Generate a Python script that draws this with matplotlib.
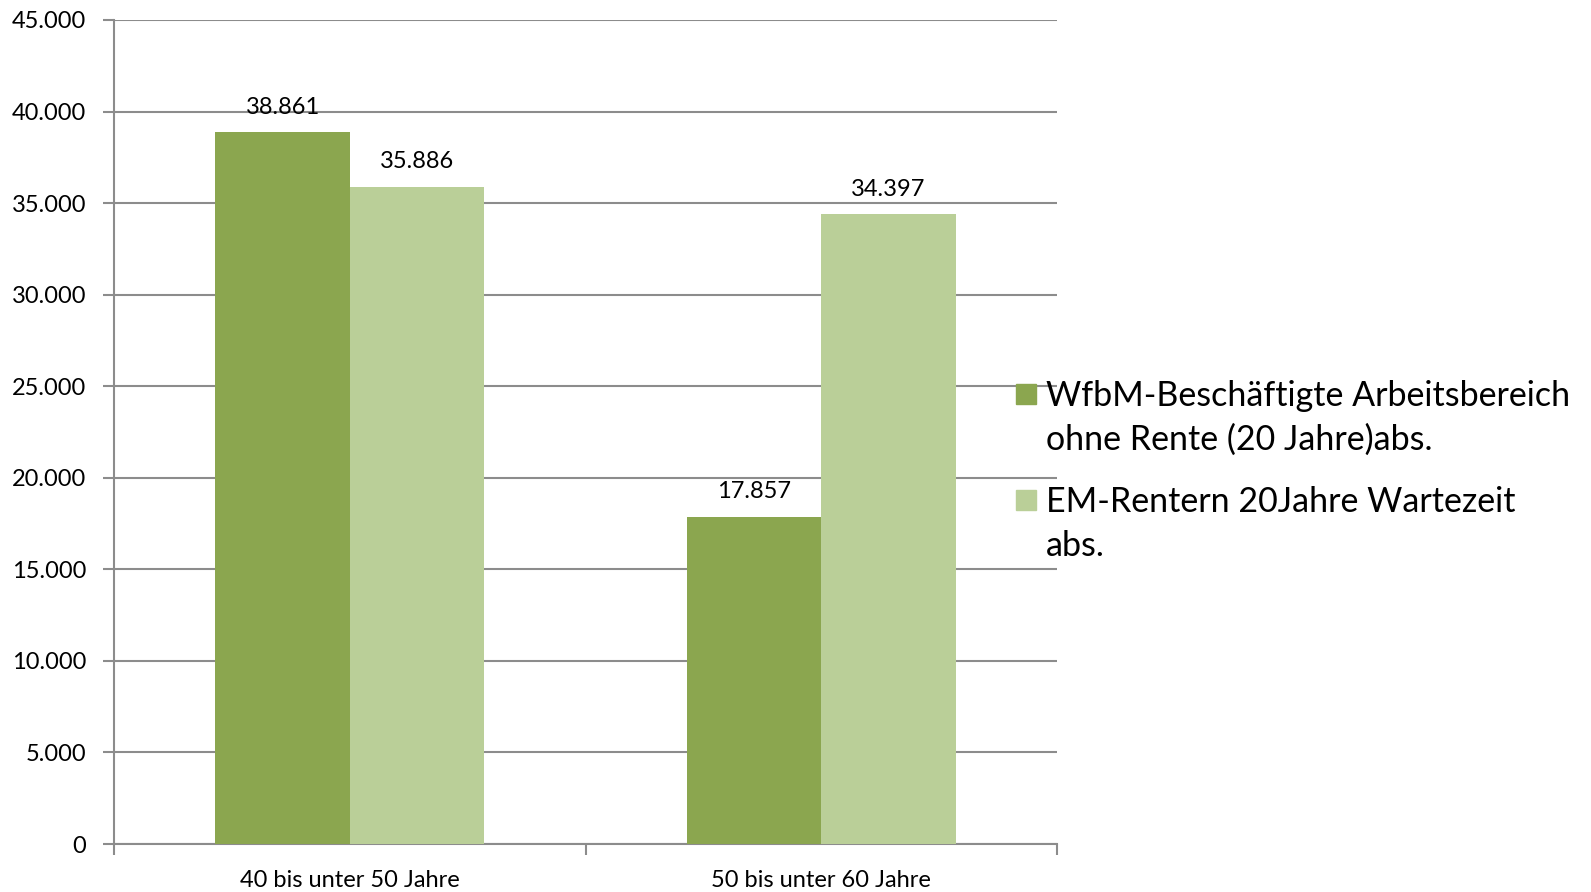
import numpy as np
import matplotlib.pyplot as plt
from matplotlib.patches import Rectangle
from matplotlib.ticker import FuncFormatter

# Daten
kategorien = ["40 bis unter 50 Jahre", "50 bis unter 60 Jahre"]
wfbm = [38861, 17857]
em_rentner = [35886, 34397]
serien_namen = ["WfbM-Beschäftigte Arbeitsbereich\nohne Rente (20 Jahre)abs.",
                "EM-Rentern 20Jahre Wartezeit\nabs."]
y_ticks = np.arange(0, 45001, 5000)

plt.rcParams['font.family'] = ['Lato', 'DejaVu Sans']

dunkel = "#8BA64F"
hell = "#BACF98"
grau = "#8C8C8C"

fig = plt.figure(figsize=(15.91, 8.92), dpi=100)
ax = fig.add_axes([0.0717, 0.0538, 0.5927, 0.9238])

x = np.arange(len(kategorien))
w = 0.285
b1 = ax.bar(x - w / 2, wfbm, w, color=dunkel, zorder=3)
b2 = ax.bar(x + w / 2, em_rentner, w, color=hell, zorder=3)

def punkt(v, pos=None):
    return f"{int(v):,}".replace(",", ".")

for bars in (b1, b2):
    for r in bars:
        ax.annotate(punkt(r.get_height()), (r.get_x() + r.get_width() / 2, r.get_height()),
                    xytext=(0, 10.5), textcoords="offset points", ha="center", va="bottom",
                    fontsize=17, zorder=4)

ax.set_xlim(-0.5, 1.5)
ax.set_ylim(0, 45000)
ax.set_yticks(y_ticks)
ax.yaxis.set_major_formatter(FuncFormatter(punkt))
ax.grid(axis="y", color=grau, linewidth=1.5, zorder=0)

# Kategorie-Ticks an den Grenzen, Beschriftung in der Mitte
ax.set_xticks([-0.5, 0.5, 1.5])
ax.set_xticklabels([])
ax.set_xticks(x, minor=True)
ax.set_xticklabels(kategorien, minor=True, fontsize=17)
ax.tick_params(axis="x", which="minor", length=0, pad=19)
ax.tick_params(axis="x", which="major", length=8, width=1.5, color=grau)
ax.tick_params(axis="y", length=8, width=1.5, color=grau, labelsize=17, pad=12)

for s in ("top", "right"):
    ax.spines[s].set_visible(False)
for s in ("left", "bottom"):
    ax.spines[s].set_color(grau)
    ax.spines[s].set_linewidth(1.5)

# Legende rechts neben dem Diagramm (Quadrat an der ersten Textzeile)
W, H = 1591, 892
for name, farbe, y0 in zip(serien_namen, [dunkel, hell], [404, 510]):
    fig.patches.append(Rectangle((1016 / W, 1 - y0 / H), 20 / W, 20 / H,
                                 transform=fig.transFigure, color=farbe))
    # va="baseline" bezieht sich auf die letzte Zeile
    fig.text(1046 / W, 1 - (y0 + 46) / H, name, fontsize=24.5, va="baseline",
             ha="left", linespacing=1.45)

fig.savefig("out.png", dpi=100)
